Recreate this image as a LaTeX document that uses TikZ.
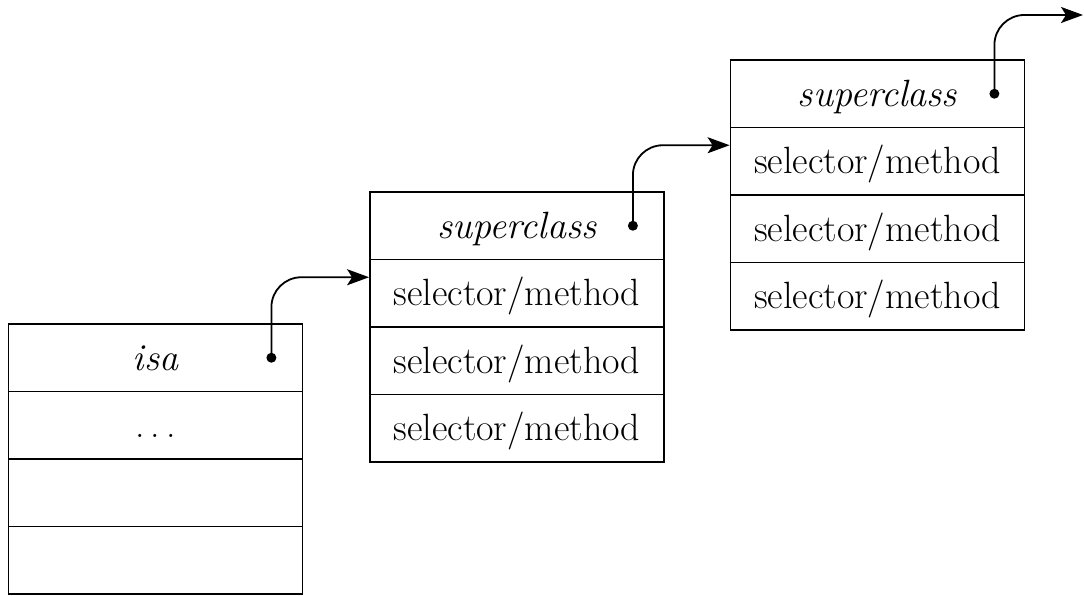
\documentclass[tikz,border=0pt]{standalone}
\usetikzlibrary{arrows.meta,calc}
\begin{document}
\begin{tikzpicture}[x=1pt,y=1pt,
  cell/.style={draw,line width=1.8pt,minimum width=294pt,minimum height=67.5pt,
    inner sep=0pt,text height=26pt,text depth=1pt,
    font=\fontsize{38}{44}\selectfont},
  dotmark/.style={circle,fill,inner sep=0pt,minimum size=10pt},
  link/.style={line width=1.8pt,rounded corners=30pt,
    -{Stealth[length=22pt,width=16pt,inset=5pt]}}]
\useasboundingbox (0,0) rectangle (1084,596);
% box 1
\node[cell] (a1) at (155.5,238.25) {\itshape isa};
\node[cell] (a2) at (155.5,170.75) {.\hspace{6pt}.\hspace{6pt}.};
\node[cell] (a3) at (155.5,103.25) {};
\node[cell] (a4) at (155.5,35.75) {};
% box 2
\node[cell] (b1) at (517,370.25) {\itshape superclass};
\node[cell] (b2) at (517,302.75) {selector/method};
\node[cell] (b3) at (517,235.25) {selector/method};
\node[cell] (b4) at (517,167.75) {selector/method};
% box 3
\node[cell] (c1) at (877.5,502.25) {\itshape superclass};
\node[cell] (c2) at (877.5,434.75) {selector/method};
\node[cell] (c3) at (877.5,367.25) {selector/method};
\node[cell] (c4) at (877.5,299.75) {selector/method};
% dots
\node[dotmark] (da) at ($(a1.east)+(-32,0)$) {};
\node[dotmark] (db) at ($(b1.east)+(-32,0)$) {};
\node[dotmark] (dc) at ($(c1.east)+(-31,0)$) {};
\coordinate (tb) at ($(b2.west)+(0,16)$);
\coordinate (tc) at ($(c2.west)+(0,16)$);
\coordinate (tend) at (1083,581);
% links
\draw[link] (da.center) |- (tb);
\draw[link] (db.center) |- (tc);
\draw[link] (dc.center) |- (tend);
\end{tikzpicture}
\end{document}
